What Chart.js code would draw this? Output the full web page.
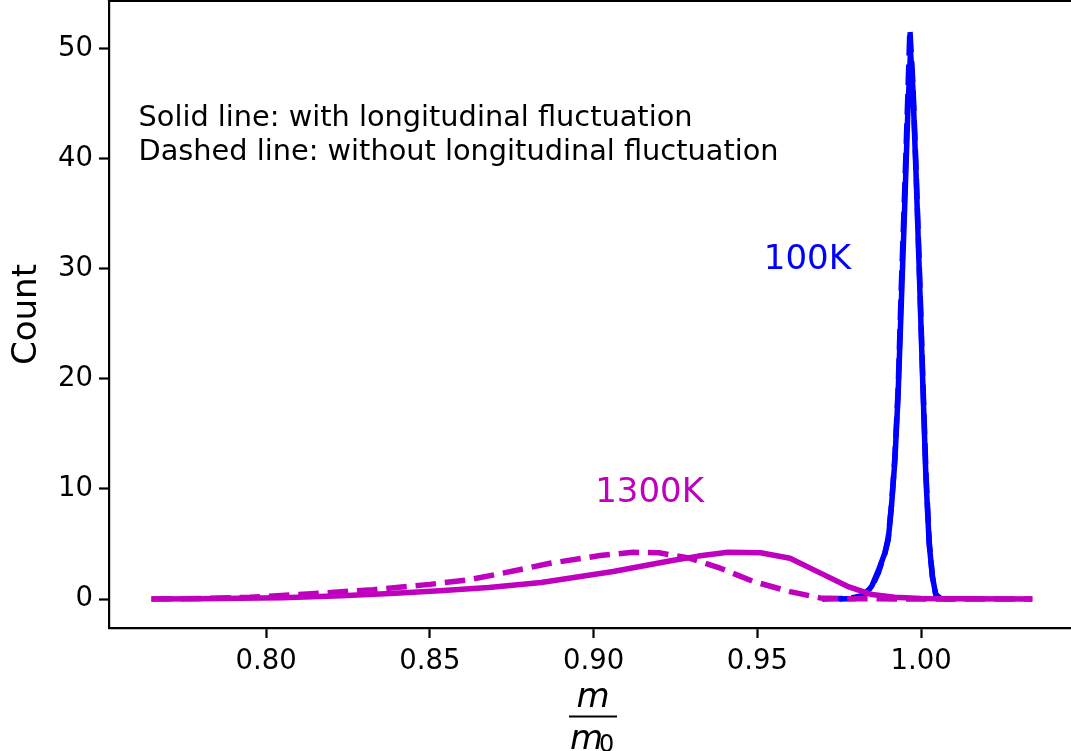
<!DOCTYPE html>
<html>
<head>
<meta charset="utf-8">
<script src="https://cdn.jsdelivr.net/npm/chart.js@4.4.1/dist/chart.umd.min.js"></script>
<style>
  html, body { margin: 0; padding: 0; background: #ffffff; }
  #wrap { width: 1071px; height: 751px; }
</style>
</head>
<body>
<div id="wrap"><canvas id="c" width="1071" height="751"></canvas></div>
<script>
// ---------- data ----------
const xTicks = [0.80, 0.85, 0.90, 0.95, 1.00];
const yTicks = [0, 10, 20, 30, 40, 50];

// 1300K, with longitudinal fluctuation (solid, magenta)
const hotSolidX = [0.765, 0.780, 0.792, 0.805, 0.823, 0.838, 0.853, 0.868, 0.884, 0.895, 0.906, 0.915, 0.924, 0.932, 0.941, 0.951, 0.960, 0.969, 0.978, 0.985, 0.992, 1.000, 1.010, 1.034];
const hotSolidY = [0.0, 0.03, 0.06, 0.12, 0.30, 0.50, 0.75, 1.05, 1.50, 2.00, 2.50, 3.00, 3.50, 3.90, 4.25, 4.20, 3.70, 2.40, 1.10, 0.40, 0.15, 0.05, 0.02, 0.0];

// 1300K, without longitudinal fluctuation (dashed, magenta)
const hotDashX = [0.765, 0.780, 0.795, 0.8125, 0.8327, 0.850, 0.862, 0.8715, 0.8867, 0.902, 0.912, 0.920, 0.9295, 0.9387, 0.9487, 0.960, 0.9692, 0.9784, 1.000, 1.034];
const hotDashY = [0.0, 0.05, 0.15, 0.45, 0.85, 1.33, 1.75, 2.30, 3.25, 3.95, 4.25, 4.20, 3.70, 2.80, 1.60, 0.67, 0.10, 0.02, 0.0, 0.0];

// 100K, with longitudinal fluctuation (solid, blue)
const coldSolidX = [0.975, 0.980, 0.983, 0.985, 0.987, 0.989, 0.990, 0.991, 0.992, 0.993, 0.994, 0.995, 0.996, 0.9968, 0.9975, 0.9985, 0.9995, 1.0005, 1.0015, 1.0025, 1.0035, 1.0045, 1.006, 1.010];
const coldSolidY = [0.0, 0.05, 0.4, 1.2, 2.6, 4.2, 5.4, 8.5, 12.5, 18.5, 27.0, 35.5, 44.5, 49.8, 46.5, 38.5, 29.5, 20.0, 11.0, 5.0, 2.0, 0.4, 0.05, 0.0];

// 100K, without longitudinal fluctuation (dashed, blue)
const coldDashX = [0.9698, 0.978, 0.982, 0.985, 0.987, 0.989, 0.990, 0.991, 0.992, 0.993, 0.994, 0.995, 0.996, 0.9966, 0.9975, 0.9985, 0.9995, 1.0005, 1.0015, 1.0025, 1.0035, 1.0045, 1.006];
const coldDashY = [0.0, 0.05, 0.3, 1.1, 2.4, 4.2, 5.6, 8.6, 12.8, 19.0, 28.5, 37.0, 46.0, 51.8, 47.0, 39.0, 30.0, 20.5, 11.5, 5.2, 2.0, 0.4, 0.0];

// ---------- helpers ----------
const pts = (xs, ys) => xs.map((x, i) => ({ x: x, y: ys[i] }));
const BLUE = '#0000ff';
const MAG = '#bf00bf';
const LW = 5.5;
const DASH = [20.5, 8.9];
const FONT = '"DejaVu Sans", "Liberation Sans", sans-serif';

const decor = {
  id: 'decor',
  afterDraw(chart) {
    const ctx = chart.ctx;
    const a = chart.chartArea;
    const xs = chart.scales.x, ys = chart.scales.y;
    ctx.save();
    // top spine
    ctx.strokeStyle = '#000';
    ctx.lineWidth = 2.2;
    ctx.beginPath();
    ctx.moveTo(a.left - 1.1, a.top);
    ctx.lineTo(a.right, a.top);
    ctx.stroke();

    // annotation text
    ctx.fillStyle = '#000';
    ctx.textAlign = 'left';
    ctx.textBaseline = 'alphabetic';
    ctx.font = '28.8px ' + FONT;
    ctx.fillText('Solid line: with longitudinal fluctuation', 138.5, 126);
    ctx.fillText('Dashed line: without longitudinal fluctuation', 138.5, 159.5);

    // temperature labels placed in data coordinates
    ctx.font = '34px ' + FONT;
    ctx.fillStyle = BLUE;
    ctx.fillText('100K', xs.getPixelForValue(0.952), ys.getPixelForValue(30));
    ctx.fillStyle = MAG;
    ctx.fillText('1300K', xs.getPixelForValue(0.9005), ys.getPixelForValue(8.8));

    // y axis label
    ctx.fillStyle = '#000';
    ctx.save();
    ctx.translate(36, (a.top + a.bottom) / 2);
    ctx.rotate(-Math.PI / 2);
    ctx.textAlign = 'center';
    ctx.font = '34px ' + FONT;
    ctx.fillText('Count', 0, 0);
    ctx.restore();

    // x axis label: fraction m / m0
    const cx = 593;
    ctx.textAlign = 'center';
    ctx.font = 'italic 34px ' + FONT;
    ctx.fillText('m', cx, 706.5);
    ctx.lineWidth = 2.2;
    ctx.beginPath();
    ctx.moveTo(569, 716.5);
    ctx.lineTo(617, 716.5);
    ctx.stroke();
    ctx.textAlign = 'left';
    ctx.fillText('m', 570, 748.5);
    ctx.font = '24px ' + FONT;
    ctx.fillText('0', 599, 752);
    ctx.restore();
  }
};

new Chart(document.getElementById('c'), {
  type: 'line',
  data: {
    datasets: [
      { data: pts(coldSolidX, coldSolidY), borderColor: BLUE, borderWidth: LW, order: 2 },
      { data: pts(coldDashX, coldDashY), borderColor: BLUE, borderWidth: LW, borderDash: DASH, order: 3 },
      { data: pts(hotSolidX, hotSolidY), borderColor: MAG, borderWidth: LW, order: 1 },
      { data: pts(hotDashX, hotDashY), borderColor: MAG, borderWidth: LW, borderDash: DASH, order: 0 }
    ]
  },
  options: {
    responsive: false,
    animation: false,
    devicePixelRatio: 1,
    layout: { padding: { left: 0, top: 1, right: 0, bottom: 0 } },
    elements: {
      point: { radius: 0 },
      line: { tension: 0, fill: false, borderCapStyle: 'butt', borderJoinStyle: 'round' }
    },
    plugins: { legend: { display: false }, tooltip: { enabled: false } },
    scales: {
      x: {
        type: 'linear',
        min: 0.75205,
        max: 1.0458,
        afterBuildTicks: s => { s.ticks = xTicks.map(v => ({ value: v })); },
        afterFit: s => { s.height = 123; s.paddingLeft = 0; s.paddingRight = 0; },
        grid: { display: true, drawOnChartArea: false, drawTicks: true, tickLength: 10, tickWidth: 2.2, tickColor: '#000' },
        border: { display: true, color: '#000', width: 2.2 },
        ticks: {
          color: '#000', padding: 7, maxRotation: 0, autoSkip: false,
          font: { family: FONT, size: 27.5 },
          callback: v => Number(v).toFixed(2)
        }
      },
      y: {
        type: 'linear',
        min: -2.636,
        max: 54.36,
        afterBuildTicks: s => { s.ticks = yTicks.map(v => ({ value: v })); },
        afterFit: s => { s.width = 109; s.paddingTop = 0; s.paddingBottom = 0; },
        grid: { display: true, drawOnChartArea: false, drawTicks: true, tickLength: 10, tickWidth: 2.2, tickColor: '#000' },
        border: { display: true, color: '#000', width: 2.2 },
        ticks: {
          color: '#000', padding: 6, autoSkip: false,
          font: { family: FONT, size: 27.5 },
          callback: v => String(v)
        }
      }
    }
  },
  plugins: [decor]
});
</script>
</body>
</html>
